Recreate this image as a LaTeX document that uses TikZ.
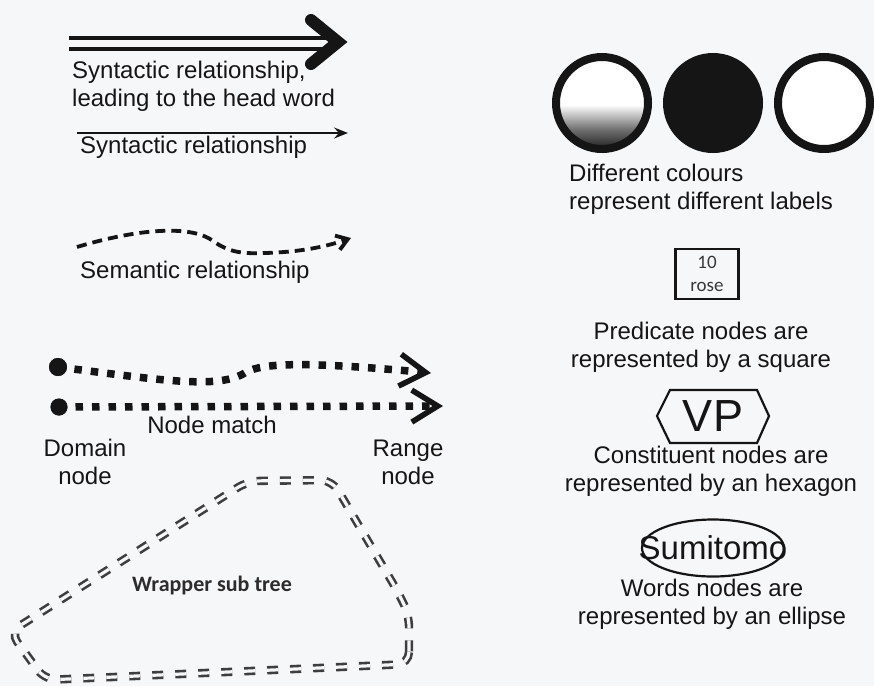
\documentclass[tikz,border=0pt]{standalone}
\usepackage{fontspec}
\setmainfont{Liberation Sans}
\newfontfamily\carlito{Carlito}
\usetikzlibrary{arrows.meta,shapes.geometric}

\definecolor{paper}{HTML}{F6F7F9}
\definecolor{ink}{HTML}{151515}
\definecolor{wrapgray}{HTML}{3E3E3E}

% white upper half fading to near black at the bottom
\pgfdeclareverticalshading{ringfade}{100bp}{color(0bp)=(black!88); color(25bp)=(black!88); color(36bp)=(black!55); color(49bp)=(white); color(100bp)=(white)}

\begin{document}
\begin{tikzpicture}[x=1pt,y=-1pt,
  lbl/.style={font=\fontsize{24}{28}\selectfont, text=ink, inner sep=0pt},
  thinarrow/.style={draw=ink, line width=2, -{Stealth[length=14,width=11,inset=5]}},
  semline/.style={draw=ink, line width=3.8, dash pattern=on 10 off 6,
    -{Straight Barb[length=11,width=15,line width=3.8]}},
  dotline/.style={draw=ink, line width=7.5, dash pattern=on 7.5 off 9,
    -{Straight Barb[length=26,width=32,line width=5.5]}},
  enddot/.style={circle, fill=ink, inner sep=0pt, minimum size=18},
  wrapline/.style={draw=wrapgray, line width=2.6, double=paper, double distance=3.2,
    dash pattern=on 11 off 12},
  ring/.style={circle, draw=ink, line width=8, minimum size=92, inner sep=0pt},
  ]
\useasboundingbox (0,0) rectangle (874,686);
\fill[paper] (0,0) rectangle (874,686);

% ---- syntactic relationship leading to the head word
\coordinate (hw1) at (69,43.5);
\coordinate (hw2) at (332,43.5);
\draw[ink, line width=4.5, double=paper, double distance=6.5] (hw1) -- (hw2);
\node[lbl, anchor=west, align=left] (thw) at (72,86) {Syntactic relationship,\\leading to the head word};
\draw[ink, line width=12, line cap=round, miter limit=10]
  (311,20) -- (338,42) -- (311,64);

% ---- plain syntactic relationship
\coordinate (sy1) at (77,133);
\coordinate (sy2) at (348,133);
\draw[thinarrow] (sy1) -- (sy2);
\node[lbl, anchor=west] (tsy) at (80,147) {Syntactic relationship};

% ---- semantic relationship
\coordinate (se1) at (77,247);
\coordinate (se2) at (351,238);
\draw[semline] (se1) .. controls (130,231) and (185,224) .. (210,239)
  .. controls (228,252) and (240,254) .. (265,253)
  .. controls (300,252) and (325,247) .. (se2);
\node[lbl, anchor=west] (tse) at (80,272) {Semantic relationship};

% ---- node match
\node[enddot] (dm1) at (58,367) {};
\node[enddot, minimum size=17] (dm2) at (59,407) {};
\coordinate (rg1) at (431,373);
\coordinate (rg2) at (443,406);
\draw[dotline] (dm1.center) .. controls (160,380) and (215,389) .. (243,374)
  .. controls (258,364) and (290,360) .. (rg1);
\draw[dotline] (dm2.center) -- (rg2);
\node[enddot] at (dm1) {};
\node[enddot, minimum size=17] at (dm2) {};
\node[lbl] (tnm) at (212,425) {Node match};
\node[lbl, align=center] (tdom) at (85,462) {Domain\\node};
\node[lbl, align=center] (trng) at (408,462) {Range\\node};

% ---- wrapper sub tree
\draw[wrapline, rounded corners=12] (409,640) -- (409,664) -- (45,680) -- (10,632)
  -- (248,481) -- (332,480) -- (398,592) -- (409,615) -- cycle;
\node[font=\carlito\bfseries\fontsize{22}{26}\selectfont, text=ink!90, inner sep=0pt] (twr) at (212,585) {Wrapper sub tree};

% ---- label colours
\node[ring, shading=ringfade] (c1) at (602,103) {};
\node[ring, fill=ink] (c2) at (713,103) {};
\node[ring, fill=white] (c3) at (824,103) {};
\node[lbl, anchor=west, align=left] (tcol) at (569,189) {Different colours\\represent different labels};

% ---- predicate node
\node[draw=ink, line width=2.2, minimum width=63, minimum height=50, inner sep=0pt,
  align=center, font=\carlito\fontsize{19}{23}\selectfont, text=ink!85] (pred) at (707,274) {10\\rose};
\node[lbl, align=center] (tpred) at (701,347) {Predicate nodes are\\represented by a square};

% ---- constituent node
\node[font=\fontsize{45}{45}\selectfont, text=ink, inner sep=0pt] (vp) at (713,416) {VP};
\draw[ink, line width=2.2, shift={(vp.center)}]
  (-56,0) -- (-43,-26) -- (44,-26) -- (56,0) -- (44,27) -- (-43,27) -- cycle;
\node[lbl, align=center] (tcon) at (711,471) {Constituent nodes are\\represented by an hexagon};

% ---- word node: the outline hugs the word tightly
\node[font=\fontsize{33}{33}\selectfont, text=ink, inner sep=0pt] (word) at (713,548) {Sumitomo};
\draw[ink, line width=2.2] (word.center) ellipse [x radius=71, y radius=28.5];
\node[lbl, align=center] (twrd) at (712,604) {Words nodes are\\represented by an ellipse};
\end{tikzpicture}
\end{document}
